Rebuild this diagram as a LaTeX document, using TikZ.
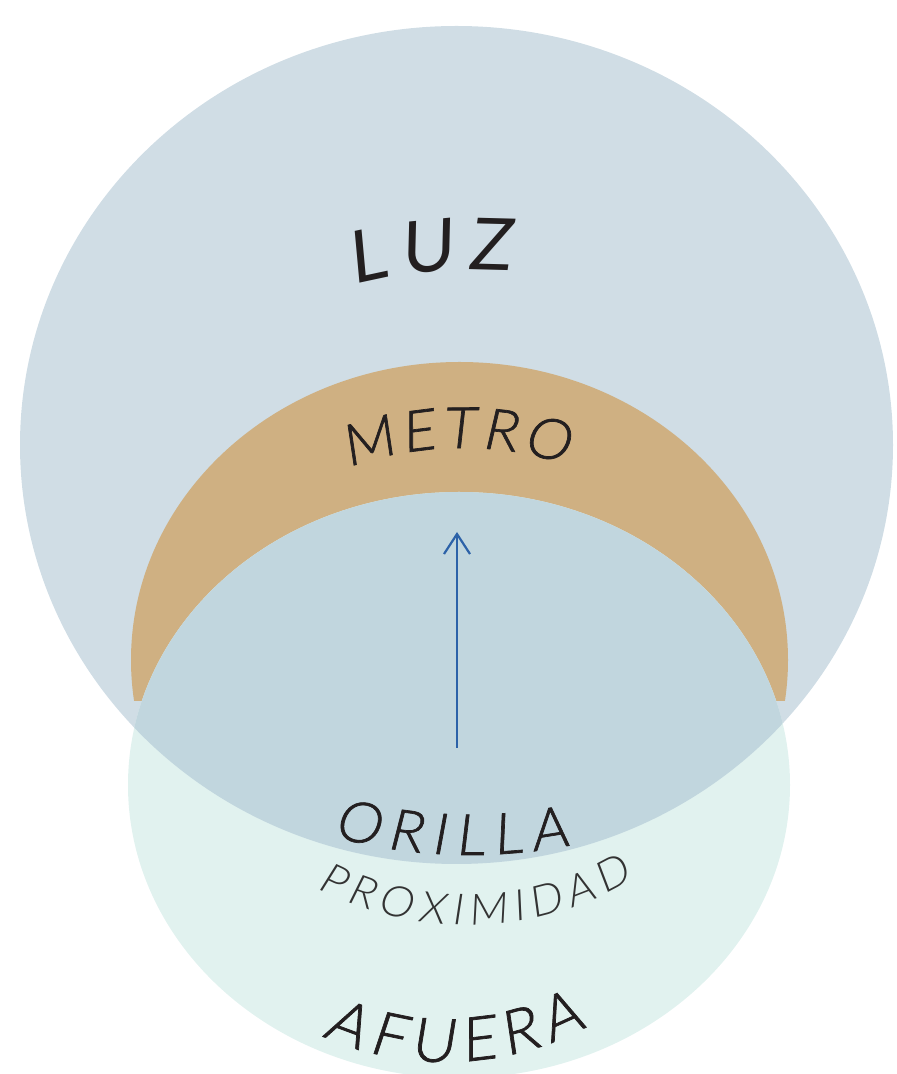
\documentclass[tikz,border=0pt]{standalone}
\usepackage{fontspec}
\usetikzlibrary{decorations.text,arrows.meta}
\newfontfamily\labreg{Lato}[FakeSlant=0.12]
\newfontfamily\labmid{Lato Light}[FakeSlant=0.12,FakeBold=1.2]
\newfontfamily\lablight{Lato Light}[FakeSlant=0.12]
\definecolor{bigblue}{HTML}{D0DDE5}
\definecolor{metroor}{HTML}{CFB082}
\definecolor{tealout}{HTML}{E1F2EF}
\definecolor{tealin}{HTML}{C1D6DE}
\definecolor{inkdark}{HTML}{231F20}
\definecolor{inkgray}{HTML}{333333}
\definecolor{arrowblue}{HTML}{2C62A8}
\tikzset{
  arcword/.style={decorate,decoration={text along path,text={#1},text align=fit to path}},
  flow/.style={draw=arrowblue,line width=2.2pt,-{Straight Barb[length=20pt,width=26pt,line width=2.2pt]}}
}
\begin{document}
\begin{tikzpicture}[x=1pt,y=1pt]
\useasboundingbox (0,0) rectangle (897,1074);
\clip (0,0) rectangle (897,1074);
% big circle LUZ
\fill[bigblue] (456.5,629) ellipse [x radius=436.5, y radius=419];
% METRO band
\begin{scope}
  \clip (0,373) rectangle (897,1074);
  \fill[metroor] (459.5,414) ellipse [x radius=328.5, y radius=298];
\end{scope}
% AFUERA circle
\fill[tealout] (459,289) ellipse [x radius=331, y radius=293];
\begin{scope}
  \clip (456.5,629) ellipse [x radius=436.5, y radius=419];
  \fill[tealin] (459,289) ellipse [x radius=331, y radius=293];
\end{scope}
% arrow
\coordinate (flowfrom) at (457,326);
\coordinate (flowto) at (457,542);
\draw[flow] (flowfrom) -- (flowto);
% labels
\path[arcword={|\labreg\fontsize{72}{72}\selectfont\color{inkdark}|LUZ}]
  (476,304) ++(104.2:500) arc[start angle=104.2, end angle=86, radius=500];
\path[arcword={|\labmid\fontsize{57}{57}\selectfont\color{inkdark}|METRO}]
  (462,291) ++(109.8:335) arc[start angle=109.8, end angle=72.1, radius=335];
\path[arcword={|\labmid\fontsize{57}{57}\selectfont\color{inkdark}|ORILLA}]
  (470,734) ++(254.5:515) arc[start angle=254.5, end angle=281.2, radius=515];
\path[arcword={|\lablight\fontsize{43}{43}\selectfont\color{inkgray}|PROXIMIDAD}]
  (467,476) ++(242.6:327) arc[start angle=242.6, end angle=300.6, radius=327];
\path[arcword={|\labmid\fontsize{61}{61}\selectfont\color{inkdark}|AFUERA}]
  (445,312) ++(245.8:300) arc[start angle=245.8, end angle=298.2, radius=300];
\end{tikzpicture}
\end{document}
